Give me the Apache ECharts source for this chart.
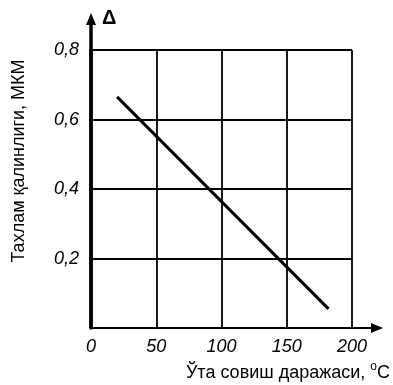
<!DOCTYPE html>
<html>
<head>
<meta charset="utf-8">
<script src="https://cdn.jsdelivr.net/npm/echarts@6/dist/echarts.min.js"></script>
<style>
html,body{margin:0;padding:0;background:#fff;}
#c{width:393px;height:385px;}
</style>
</head>
<body>
<div id="c"></div>
<script>
// Data
var xTicks = [0, 50, 100, 150, 200];
var yTicks = [0, 0.2, 0.4, 0.6, 0.8];
var supercooling = [20, 182];      // Ўта совиш даражаси, °C
var thickness = [0.665, 0.055];    // Тахлам қалинлиги, МКМ
var xTitle = 'Ўта совиш даражаси, ';
var yTitle = 'Тахлам қалинлиги, МКМ';
var yMarker = 'Δ';

var FONT = '"Liberation Sans", Arial, sans-serif';
var chart = echarts.init(document.getElementById('c'), null, {renderer: 'canvas'});

var data = supercooling.map(function (x, i) { return [x, thickness[i]]; });

chart.setOption({
  animation: false,
  grid: {left: 91, right: 41, top: 50, bottom: 57},
  xAxis: {
    type: 'value',
    min: xTicks[0], max: xTicks[xTicks.length - 1], interval: 50,
    axisLine: {show: true, lineStyle: {color: '#000', width: 2}},
    axisTick: {show: false},
    splitLine: {show: true, lineStyle: {color: '#000', width: 1.8}},
    axisLabel: {
      color: '#000', fontSize: 18, fontStyle: 'italic', fontFamily: FONT, margin: 10,
      formatter: function (v) { return String(v); }
    }
  },
  yAxis: {
    type: 'value',
    min: yTicks[0], max: yTicks[yTicks.length - 1], interval: 0.2,
    axisLine: {show: true, lineStyle: {color: '#000', width: 3.5}},
    axisTick: {show: false},
    splitLine: {show: true, lineStyle: {color: '#000', width: 1.8}},
    axisLabel: {
      color: '#000', fontSize: 18, fontStyle: 'italic', fontFamily: FONT, margin: 12,
      formatter: function (v) { return v === 0 ? '' : v.toFixed(1).replace('.', ','); }
    }
  },
  series: [{
    type: 'line',
    data: data,
    symbol: 'none',
    lineStyle: {color: '#000', width: 3},
    z: 5
  }]
});

// Extended axis arrows and titles, positioned from the axis scales
var o = chart.convertToPixel({gridIndex: 0}, [xTicks[0], yTicks[0]]);
var tr = chart.convertToPixel({gridIndex: 0}, [xTicks[xTicks.length - 1], yTicks[yTicks.length - 1]]);
var yTip = tr[1] - 37;
var xTip = tr[0] + 31;
chart.setOption({
  graphic: [
    {type: 'line', shape: {x1: o[0], y1: o[1], x2: o[0], y2: yTip + 8}, style: {stroke: '#000', lineWidth: 3.5}},
    {type: 'polygon', shape: {points: [[o[0], yTip], [o[0] - 5, yTip + 12], [o[0] + 5, yTip + 12]]}, style: {fill: '#000'}},
    {type: 'line', shape: {x1: o[0], y1: o[1], x2: xTip - 8, y2: o[1]}, style: {stroke: '#000', lineWidth: 2}},
    {type: 'polygon', shape: {points: [[xTip, o[1]], [xTip - 12, o[1] - 5], [xTip - 12, o[1] + 5]]}, style: {fill: '#000'}},
    {type: 'text', x: o[0] + 11, y: yTip - 5, style: {text: yMarker, font: 'bold 20px ' + FONT, fill: '#000'}},
    {type: 'text', x: 19, y: 161, rotation: Math.PI / 2,
     style: {text: yTitle, font: '18px ' + FONT, fill: '#000', textAlign: 'center', textVerticalAlign: 'middle'}},
    {type: 'text', right: 3, bottom: 3,
     style: {
       text: '{t|' + xTitle + '}{d|o}{t|C}',
       fill: '#000',
       rich: {
         t: {font: '18px ' + FONT, fill: '#000', verticalAlign: 'bottom'},
         d: {font: '12px ' + FONT, fill: '#000', verticalAlign: 'top', padding: [0, 0, 9, 0]}
       }
     }}
  ]
});
</script>
</body>
</html>
